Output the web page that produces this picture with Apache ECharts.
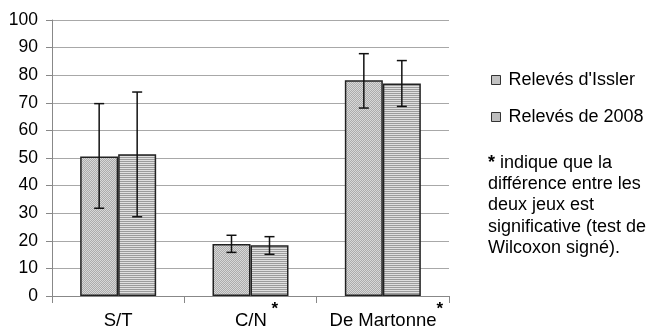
<!DOCTYPE html>
<html>
<head>
<meta charset="utf-8">
<script src="https://cdn.jsdelivr.net/npm/echarts@6/dist/echarts.min.js"></script>
<style>html,body{margin:0;padding:0;background:#fff}#c{width:647px;height:331px}</style>
</head>
<body>
<div id="c"></div>
<script>
// ---- data ----
var categories = ['S/T', 'C/N', 'De Martonne'];
var starLabels = ['', ' *', '*'];           // significance marks appended to category labels
var seriesNames = ["Relevés d'Issler", 'Relevés de 2008'];
var isslerMean = [50.5, 18.8, 78.2];
var isslerLow  = [31.8, 15.8, 68.1];
var isslerHigh = [69.7, 22.0, 87.8];
var y2008Mean  = [51.4, 18.4, 77.0];
var y2008Low   = [28.7, 15.1, 68.7];
var y2008High  = [73.9, 21.5, 85.3];
var noteLines = ['{b|*} indique que la', 'différence entre les', 'deux jeux est', 'significative (test de', 'Wilcoxon signé).'];

// ---- patterns ----
function makePattern(kind) {
  var c = document.createElement('canvas');
  c.width = 4; c.height = 4;
  var ctx = c.getContext('2d');
  for (var y = 0; y < 4; y++) for (var x = 0; x < 4; x++) {
    var light = kind === 'check' ? ((x + y) % 2 === 0) : (y % 2 === 0);
    ctx.fillStyle = kind === 'check' ? (light ? '#d8d8d8' : '#acacac') : (light ? '#e0e0e0' : '#9c9c9c');
    ctx.fillRect(x, y, 1, 1);
  }
  return { image: c, repeat: 'repeat' };
}
var pat1 = makePattern('check');
var pat2 = makePattern('stripe');

var FONT = "'Liberation Sans', Arial, sans-serif";
var XFS = 18.5;
var measure = document.createElement('canvas').getContext('2d');
function tw(t, size, bold) { measure.font = (bold ? 'bold ' : '') + size + 'px ' + FONT; return measure.measureText(t).width; }

var BAR_W = 38;
function errSeries(low, high, offset) {
  return {
    type: 'custom',
    z: 10,
    data: categories.map(function (c, i) { return [i, low[i], high[i]]; }),
    encode: { x: 0, y: [1, 2] },
    renderItem: function (params, api) {
      var i = api.value(0);
      var pLow = api.coord([i, api.value(1)]);
      var pHigh = api.coord([i, api.value(2)]);
      var x = pLow[0] + offset;
      var cap = 5;
      var st = { stroke: '#111', lineWidth: 1.5 };
      return {
        type: 'group',
        children: [
          { type: 'line', shape: { x1: x, y1: pLow[1], x2: x, y2: pHigh[1] }, style: st },
          { type: 'line', shape: { x1: x - cap, y1: pLow[1], x2: x + cap, y2: pLow[1] }, style: st },
          { type: 'line', shape: { x1: x - cap, y1: pHigh[1], x2: x + cap, y2: pHigh[1] }, style: st }
        ]
      };
    }
  };
}

var xRich = {
  a: { fontSize: XFS, color: '#000', fontFamily: FONT, lineHeight: 40 },
  s: { fontSize: 17, fontWeight: 'bold', color: '#000', fontFamily: FONT, lineHeight: 17, verticalAlign: 'top' }
};
for (var k = 0; k < starLabels.length; k++) {
  if (starLabels[k]) {
    xRich['p' + k] = { width: Math.round(tw(starLabels[k].replace('*', ''), XFS) + tw('*', 17, true)), lineHeight: 40 };
  }
}

var chart = echarts.init(document.getElementById('c'));
chart.setOption({
  animation: false,
  backgroundColor: '#fff',
  textStyle: { fontFamily: FONT },
  grid: { left: 52, right: 198, top: 20, bottom: 35 },
  legend: {
    data: seriesNames.map(function (n) { return { name: n, icon: 'rect' }; }),
    orient: 'vertical',
    left: 491, top: 71,
    padding: 0,
    itemWidth: 9, itemHeight: 9,
    itemGap: 19,
    textStyle: { fontSize: 18, color: '#000', fontFamily: FONT, padding: [0, 0, 0, 3] },
    itemStyle: { borderColor: '#333', borderWidth: 1 }
  },
  xAxis: {
    type: 'category',
    data: categories,
    axisLine: { lineStyle: { color: '#888' } },
    axisTick: { show: true, length: 7, lineStyle: { color: '#888' } },
    axisLabel: {
      margin: 5,
      interval: 0,
      color: '#000',
      formatter: function (v, i) {
        var s = starLabels[i];
        if (!s) return '{a|' + v + '}';
        return '{p' + i + '|}{a|' + v + '}{s|' + s + '}';
      },
      rich: xRich
    }
  },
  yAxis: {
    type: 'value',
    min: 0, max: 100, interval: 10,
    axisLine: { show: true, lineStyle: { color: '#888' } },
    axisTick: { show: true, length: 6, lineStyle: { color: '#888' } },
    splitLine: { lineStyle: { color: '#a8a8a8' } },
    axisLabel: { margin: 14, color: '#000', fontSize: 17.5, fontFamily: FONT }
  },
  series: [
    { name: seriesNames[0], type: 'bar', data: isslerMean, barWidth: BAR_W, barGap: 0,
      itemStyle: { color: pat1, borderColor: '#222', borderWidth: 1.5 } },
    { name: seriesNames[1], type: 'bar', data: y2008Mean, barWidth: BAR_W, barGap: 0,
      itemStyle: { color: pat2, borderColor: '#222', borderWidth: 1.5 } },
    errSeries(isslerLow, isslerHigh, -BAR_W / 2),
    errSeries(y2008Low, y2008High, BAR_W / 2)
  ],
  graphic: [{
    type: 'text',
    left: 488, top: 152,
    style: {
      text: noteLines.join('\n'),
      fontSize: 18, fontFamily: FONT, fill: '#000', lineHeight: 21.4,
      rich: { b: { fontWeight: 'bold', fontSize: 18, fontFamily: FONT, lineHeight: 21.4 } }
    }
  }]
});
</script>
</body>
</html>
